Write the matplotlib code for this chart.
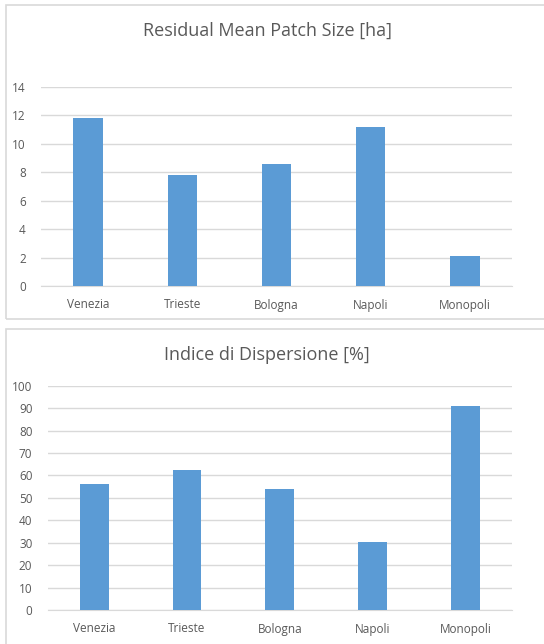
import matplotlib
matplotlib.use("Agg")
import matplotlib.pyplot as plt
from matplotlib.patches import Rectangle

cities = ["Venezia", "Trieste", "Bologna", "Napoli", "Monopoli"]
patch_size = [11.8, 7.8, 8.6, 11.2, 2.1]
dispersion = [56, 62.5, 54, 30.5, 91]
patch_ticks = [0, 2, 4, 6, 8, 10, 12, 14]
disp_ticks = [0, 10, 20, 30, 40, 50, 60, 70, 80, 90, 100]

W, H = 544, 644
fig = plt.figure(figsize=(W / 100, H / 100), dpi=100)
plt.rcParams['font.family'] = ['Open Sans', 'DejaVu Sans']

TXT = "#595959"
GRID = "#d9d9d9"
BAR = "#5b9bd5"


def px_axes(x0, y0, x1, y1):
    return fig.add_axes([x0 / W, (H - y1) / H, (x1 - x0) / W, (y1 - y0) / H])


def border(x0, y0, x1, y1):
    fig.patches.append(Rectangle((x0 / W, (H - y1) / H), (x1 - x0) / W, (y1 - y0) / H,
                                 transform=fig.transFigure, fill=False,
                                 edgecolor=GRID, linewidth=1.2))


def style(ax, values, ticks, ymax):
    x = range(len(cities))
    ax.bar(x, values, width=0.31, color=BAR, zorder=3)
    ax.set_xlim(-0.5, len(cities) - 0.5)
    ax.set_ylim(0, ymax)
    ax.set_yticks(ticks)
    ax.set_xticks(list(x))
    ax.set_xticklabels(cities)
    ax.grid(axis='y', color=GRID, linewidth=1, zorder=0)
    for s in ["top", "right", "left"]:
        ax.spines[s].set_visible(False)
    ax.spines["bottom"].set_color(GRID)
    ax.tick_params(axis='both', length=0, colors=TXT, labelsize=8.5)
    ax.tick_params(axis='y', pad=11)
    ax.tick_params(axis='x', pad=9)
    ax.set_facecolor("white")


border(6, 5, 550, 319)
border(6, 329, 550, 650)

ax1 = px_axes(41, 86.7, 512, 286)
style(ax1, patch_size, patch_ticks, 14)
fig.text(267.5 / W, 1 - 30.7 / H, "Residual Mean Patch Size [ha]", ha='center', va='center',
         fontsize=13, color=TXT)

ax2 = px_axes(47.7, 385.7, 512, 610)
style(ax2, dispersion, disp_ticks, 100)
fig.text(267 / W, 1 - 355 / H, "Indice di Dispersione [%]", ha='center', va='center',
         fontsize=13, color=TXT)

fig.savefig("out.png", dpi=100)
